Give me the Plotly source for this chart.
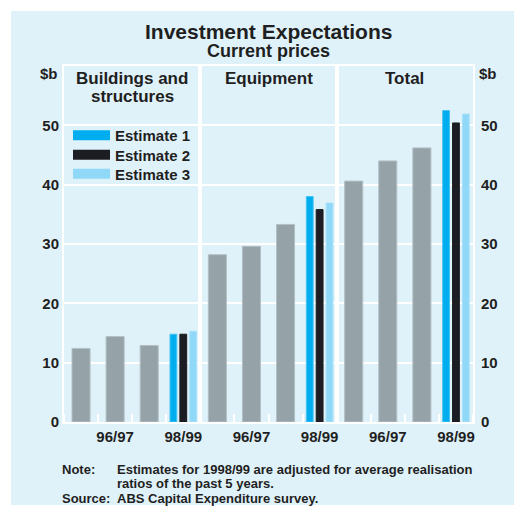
import plotly.graph_objects as go

# ---------------- data ----------------
categories = ["95/96", "96/97", "97/98", "98/99"]
tick_labels = ["96/97", "98/99"]
panel_titles = [["Buildings and", "structures"], ["Equipment"], ["Total"]]
actual_buildings = [12.4, 14.4, 12.9]
actual_equipment = [28.2, 29.6, 33.3]
actual_total = [40.6, 44.0, 46.2]
estimate_names = ["Estimate 1", "Estimate 2", "Estimate 3"]
estimate_1 = [14.8, 38.0, 52.5]   # buildings, equipment, total for 98/99
estimate_2 = [14.8, 35.8, 50.4]
estimate_3 = [15.3, 36.9, 51.9]
y_ticks = [0, 10, 20, 30, 40, 50]
note_label = "Note:"
note_lines = ["Estimates for 1998/99 are adjusted for average realisation",
              "ratios of the past 5 years."]
source_label = "Source:"
source_text = "ABS Capital Expenditure survey."

# ---------------- style ----------------
W, H = 514, 510
L, R, T, B = 64, 41, 66, 88
BG = "#dff2fa"
TXT = "#1f1f22"
GRAY = "#95a3a9"
GRAY_EDGE = "#b3c0c5"
EST_COLORS = ["#00aeef", "#1b1d22", "#8fd8f7"]
EST_EDGES = ["#45c3f2", "#1b1d22", "#a9e1f8"]
EST_OFFSETS = [-0.39, -0.1, 0.19]
EST_WIDTH = 0.2
FONT = "Liberation Sans, Arial, Helvetica, sans-serif"
LEGEND_ROWS = [135.5, 155, 174]


def xp(px):
    return (px - L) / (W - L - R)


def yp(py):
    return (H - B - py) / (H - T - B)


actuals = [actual_buildings, actual_equipment, actual_total]
estimates = [estimate_1, estimate_2, estimate_3]

fig = go.Figure()
for p in range(3):
    xa = "x" if p == 0 else f"x{p+1}"
    ya = "y" if p == 0 else f"y{p+1}"
    fig.add_trace(go.Bar(
        x=list(range(len(actuals[p]))), y=actuals[p], xaxis=xa, yaxis=ya,
        width=0.53, marker=dict(color=GRAY, line=dict(color=GRAY_EDGE, width=1)),
        showlegend=False, hoverinfo="y"))
    for k in range(3):
        fig.add_trace(go.Bar(
            x=[categories.index("98/99")], y=[estimates[k][p]], xaxis=xa, yaxis=ya,
            width=EST_WIDTH, offset=EST_OFFSETS[k],
            marker=dict(color=EST_COLORS[k], line=dict(color=EST_EDGES[k], width=1)),
            showlegend=False, name=estimate_names[k]))

# legend entries (one legend per row for exact spacing)
legend_keys = ["legend", "legend2", "legend3"]
for k in range(3):
    fig.add_trace(go.Scatter(x=[None], y=[None], mode="lines", name=estimate_names[k],
                             line=dict(color=EST_COLORS[k], width=10),
                             xaxis="x", yaxis="y", legend=legend_keys[k]))

xaxis_common = dict(
    range=[-0.5, 3.5], tickvals=[categories.index(t) for t in tick_labels],
    ticktext=tick_labels, ticks="", showgrid=False, zeroline=False,
    showline=True, linecolor="white", linewidth=2, mirror=True,
    tickfont=dict(family=FONT, size=15, color=TXT, weight="bold"),
    minor=dict(ticks="inside", tick0=0.5, dtick=1, ticklen=8,
               tickcolor="white", tickwidth=2, showgrid=False),
    fixedrange=True,
)
yaxis_common = dict(
    range=[0, 60], tickvals=y_ticks, ticks="", showgrid=True, gridcolor="white",
    gridwidth=1.5, zeroline=False, showline=True, linecolor="white", linewidth=2,
    mirror=True, tickfont=dict(family=FONT, size=15, color=TXT, weight="bold"),
    fixedrange=True,
)

layout = dict(
    width=W, height=H, margin=dict(l=L, r=R, t=T, b=B),
    paper_bgcolor="white", plot_bgcolor=BG, barmode="overlay",
    showlegend=True,
    font=dict(family=FONT, color=TXT),
)
for k, key in enumerate(legend_keys):
    layout[key] = dict(x=xp(68), y=yp(LEGEND_ROWS[k]), xanchor="left", yanchor="middle",
                       bgcolor="rgba(0,0,0,0)", borderwidth=0, itemwidth=37,
                       font=dict(family=FONT, size=15, color=TXT, weight="bold"))
for p in range(3):
    sfx = "" if p == 0 else str(p + 1)
    layout["xaxis" + sfx] = dict(xaxis_common, domain=[p / 3, (p + 1) / 3],
                                 anchor="y" + sfx)
    ya = dict(yaxis_common, anchor="x" + sfx)
    if p > 0:
        ya["matches"] = "y"
    if p == 1:
        ya["showticklabels"] = False
    if p == 2:
        ya["side"] = "right"
        ya["ticklabelstandoff"] = 3
    layout["yaxis" + sfx] = ya
fig.update_layout(**layout)

# background panel
fig.add_shape(type="rect", xref="paper", yref="paper", layer="below",
              x0=xp(11), x1=xp(514), y0=yp(505), y1=yp(11),
              fillcolor=BG, line=dict(width=0))

ann = []


def text(s, x, y, size, xanchor="center"):
    ann.append(dict(text=s, x=x, y=y, xref="paper", yref="paper", showarrow=False,
                    xanchor=xanchor, yanchor="middle",
                    font=dict(family=FONT, size=size, color=TXT, weight="bold")))


text("Investment Expectations", 0.5, yp(31), 21)
text("Current prices", 0.5, yp(51), 18)
for p, lines in enumerate(panel_titles):
    for i, ln in enumerate(lines):
        text(ln, (p + 0.5) / 3, yp(78.5 + 18 * i), 17)
text("$b", xp(60), yp(73), 15, "right")
text("$b", xp(477), yp(73), 15, "left")
text(note_label, xp(60), yp(469), 13, "left")
text(note_lines[0], xp(115), yp(469), 13, "left")
text(note_lines[1], xp(115), yp(483.5), 13, "left")
text(source_label, xp(60), yp(498), 13, "left")
text(source_text, xp(115), yp(498), 13, "left")
fig.update_layout(annotations=ann)

fig.write_html("out.html", config={"displayModeBar": False},
               post_script="document.body.style.margin='0px';")
